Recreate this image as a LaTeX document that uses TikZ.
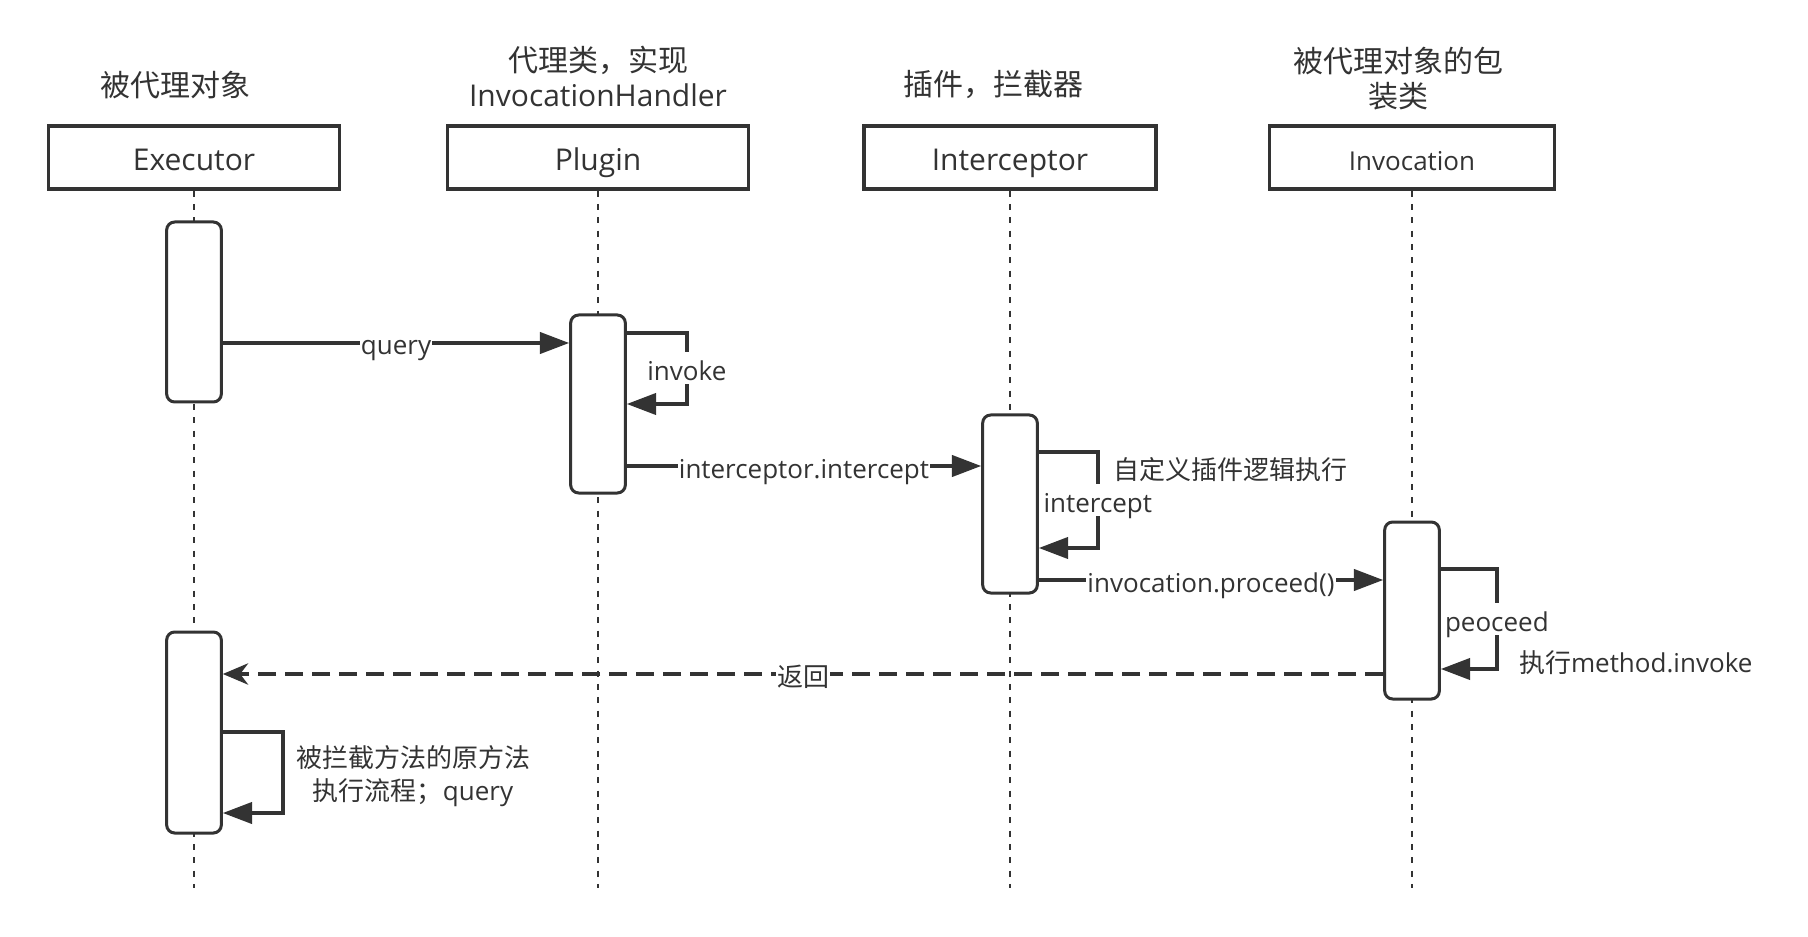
\documentclass[tikz,border=0pt]{standalone}
\usepackage{fontspec}
\setmainfont{Open Sans}
\newfontfamily\cjk{Noto Sans CJK SC}
\usepackage{tikz}
\usetikzlibrary{arrows.meta,positioning,calc}
\definecolor{ink}{HTML}{333333}
\tikzset{
    >={Triangle[length=22pt,width=16pt]},
    every picture/.style={line width=2.5pt,color=ink},
    head/.style={rectangle,draw,line width=2.6pt,minimum height=47pt,text height=20pt,text depth=1.2pt,font=\fontsize{22.5}{27}\selectfont},
    bar/.style={rectangle,draw,fill=white,rounded corners=6pt,minimum width=41pt,line width=2.25pt},
    life/.style={line width=2pt,dash pattern=on 4.5pt off 5.5pt},
    msg/.style={->},
    ret/.style={-{Stealth[length=19pt,width=16pt,inset=6pt]},dash pattern=on 13.5pt off 6.75pt},
    lbl/.style={fill=white,inner sep=1pt,text height=20pt,text depth=2pt,font=\fontsize{19.5}{24.75}\selectfont},
    note/.style={inner sep=1pt,font=\fontsize{19.5}{24.75}\selectfont},
    title/.style={align=center,font=\fontsize{22.5}{26.6}\selectfont}
}

\begin{document}
\begin{tikzpicture}[x=0.75pt,y=-0.75pt]
        \useasboundingbox (0,0) rectangle (1808,937);
        \coordinate (bottom) at (0,888);

        % Titles
        \node[title] (t1) at (175,85) {\cjk 被代理对象};
        \node[title] (t2) at (598,76.5) {{\cjk 代理类，实现}\\InvocationHandler};
        \node[title] (t3) at (993,85) {\cjk 插件，拦截器};
        \node[title] (t4) at (1398,78.5) {{\cjk 被代理对象的包}\\{\cjk 装类}};

        % Heads
        \node[head,minimum width=218pt] (exe) at (194,157.5) {Executor};
        \node[head,minimum width=226pt] (plg) at (598,157.5) {Plugin};
        \node[head,minimum width=219pt] (icp) at (1010,157.5) {Interceptor};
        \node[head,minimum width=214pt,font=\fontsize{19.5}{24}\selectfont] (inv) at (1412,157.5) {Invocation};

        % Lifelines
        \draw[life] (exe.south) -- (exe.south |- bottom);
        \draw[life] (plg.south) -- (plg.south |- bottom);
        \draw[life] (icp.south) -- (icp.south |- bottom);
        \draw[life] (inv.south) -- (inv.south |- bottom);

        % Activations
        \node[bar,minimum height=135pt] (a1) at (194,312) {};
        \node[bar,minimum height=133.5pt] (p1) at (598,404) {};
        \node[bar,minimum height=133.5pt] (i1) at (1010,504) {};
        \node[bar,minimum height=132.75pt] (v1) at (1412,610.5) {};
        \node[bar,minimum height=150.75pt] (a2) at (194,732.5) {};

        % Messages
        \draw[msg] (a1.east |- 0,343) -- node[lbl] {query} (p1.west |- 0,343);
        \draw[msg] (p1.east |- 0,333) -- ++(60,0) |- node[lbl,pos=0.25] {invoke} (p1.east |- 0,404);
        \draw[msg] (p1.east |- 0,466) -- node[lbl] {interceptor.intercept} (i1.west |- 0,466);
        \draw[msg] (i1.east |- 0,452) -- ++(59,0) |- node[lbl,pos=0.25] {intercept} (i1.east |- 0,548);
        \node[note,anchor=west] (n1) at (1110,470) {\cjk 自定义插件逻辑执行};
        \draw[msg] (i1.east |- 0,580) -- node[lbl] {invocation.proceed()} (v1.west |- 0,580);
        \draw[msg] (v1.east |- 0,569) -- ++(56,0) |- node[lbl,pos=0.25] {peoceed} (v1.east |- 0,669);
        \node[note,anchor=west] (n2) at (1516,663) {{\cjk 执行}method.invoke};

        % Return
        \draw[ret] (v1.west |- 0,674) -- node[lbl] {\cjk 返回} (a2.east |- 0,674);
        \draw[msg] (a2.east |- 0,732) -- ++(60,0) |- (a2.east |- 0,813);
        \node[note,align=center] (n3) at (413,776) {{\cjk 被拦截方法的原方法}\\{\cjk 执行流程；}query};
\end{tikzpicture}
\end{document}
